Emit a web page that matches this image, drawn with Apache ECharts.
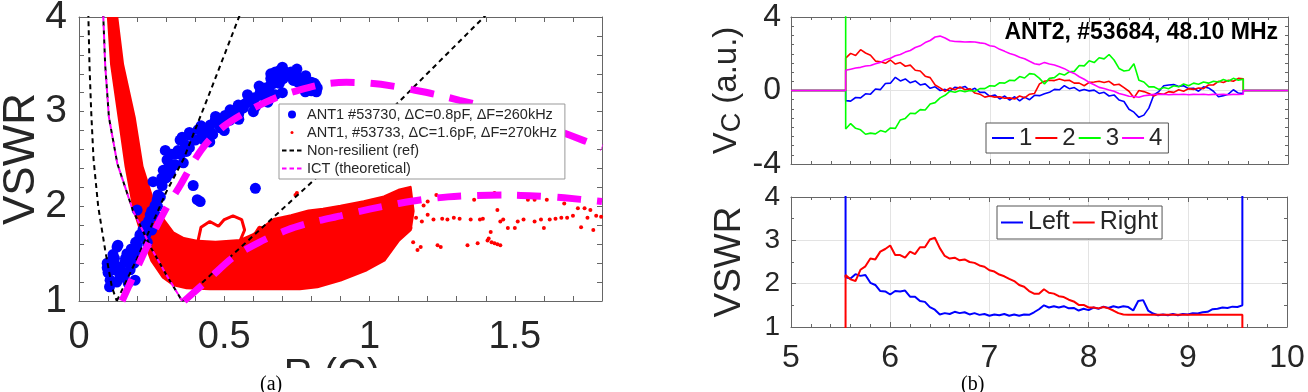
<!DOCTYPE html>
<html>
<head>
<meta charset="utf-8">
<script src="https://cdn.jsdelivr.net/npm/echarts@6/dist/echarts.min.js"></script>
<style>
  html, body { margin: 0; padding: 0; background: #fff; }
  #main { width: 1308px; height: 392px; }
</style>
</head>
<body>
<div id="main"></div>
<script>
// ---- panel (a): VSWR vs R ----
var ant1aPts = [
  [0.097,1.35],[0.107,1.22],[0.117,1.49],[0.134,1.59],[0.117,1.33],[0.141,1.27],[0.159,1.41],[0.176,1.33],
  [0.186,1.49],[0.2,1.59],[0.21,1.7],[0.193,1.22],[0.169,1.19],[0.131,1.57],[0.097,1.4],[0.21,1.68],
  [0.122,1.45],[0.15,1.3],[0.165,1.5],[0.19,1.4],[0.228,1.8],[0.245,1.91],[0.262,2.01],[0.272,2.12],
  [0.286,2.22],[0.29,2.38],[0.303,2.49],[0.297,2.59],[0.314,2.35],[0.331,2.44],[0.341,2.59],[0.348,2.7],
  [0.366,2.65],[0.383,2.75],[0.4,2.7],[0.41,2.81],[0.434,2.78],[0.452,2.86],[0.469,2.91],[0.486,2.83],
  [0.503,2.96],[0.528,3.0],[0.548,3.07],[0.566,3.04],[0.583,3.12],[0.607,3.15],[0.624,3.21],[0.641,3.25],
  [0.659,3.28],[0.676,3.42],[0.693,3.44],[0.703,3.35],[0.72,3.39],[0.738,3.33],[0.755,3.31],[0.772,3.28],
  [0.797,3.25],[0.814,3.28],[0.817,3.21],[0.779,3.21],[0.676,3.18],[0.607,3.05],[0.52,2.91],
  [0.33,2.55],[0.37,2.58],[0.43,2.7],[0.46,2.76],[0.5,2.88],[0.55,2.98],[0.6,3.08],[0.64,3.15],
  [0.66,3.35],[0.69,3.3],[0.73,3.42],[0.75,3.37],[0.8,3.31],[0.82,3.25],
  [0.3,2.3],[0.32,2.42],[0.35,2.55],[0.38,2.62],[0.42,2.72],[0.45,2.8],[0.48,2.9],[0.51,2.93],
  [0.54,3.02],[0.57,3.08],[0.6,3.12],[0.63,3.18],[0.655,3.22],[0.67,3.3],[0.685,3.38],[0.71,3.42],
  [0.74,3.4],[0.76,3.35],[0.79,3.3],[0.81,3.3],[0.8,3.22],
  [0.45,2.68],[0.5,2.8],[0.55,2.92],[0.6,3.0],[0.65,3.1],[0.7,3.2],[0.52,3.02],[0.47,2.95],
  [0.42,2.85],[0.38,2.78],[0.58,3.18],[0.62,3.27],[0.66,3.4],[0.7,3.47],[0.75,3.45],[0.78,3.38],
  [0.1,1.3],[0.11,1.42],[0.125,1.38],[0.14,1.35],[0.155,1.25],[0.16,1.45],[0.175,1.42],[0.18,1.55],
  [0.195,1.62],[0.205,1.52],[0.22,1.75],[0.23,1.7],[0.24,1.85],[0.25,1.95],[0.265,1.9],[0.27,2.0],
  [0.28,2.1],[0.285,2.3],[0.31,2.45],[0.32,2.55],[0.105,1.15],[0.13,1.2],
  [0.355,2.73],[0.393,2.22],[0.417,2.05],[0.607,2.19],[0.255,2.26],[0.269,2.07],[0.303,2.35],[0.359,2.46],
  [0.407,2.07],[0.2,1.96],[0.25,1.75],[0.235,1.62]
];
var ant1bCloud = [
  [0.1,4.05],[0.128,4.05],[0.15,3.5],[0.19,2.94],[0.217,2.42],[0.245,2.15],[0.266,1.96],
  [0.29,1.86],[0.324,1.72],[0.36,1.66],[0.41,1.63],[0.47,1.62],[0.555,1.64],[0.6,1.7],[0.67,1.86],[0.73,1.9],
  [0.79,1.95],[0.84,1.97],[0.9,2.0],[0.98,2.05],[1.05,2.1],[1.1,2.17],[1.14,2.2],[1.15,1.95],[1.14,1.75],
  [1.1,1.64],[1.05,1.43],[0.99,1.33],[0.9,1.22],[0.82,1.15],[0.76,1.13],[0.6,1.13],[0.45,1.13],[0.37,1.14],
  [0.326,1.17],[0.29,1.25],[0.25,1.43],[0.215,1.72],[0.19,1.96],[0.162,2.42],[0.138,2.94],[0.112,3.5],[0.1,4.05]
];
var ant1bLoop = [
  [0.41,1.64],[0.42,1.78],[0.45,1.84],[0.48,1.79],[0.5,1.86],[0.53,1.9],[0.56,1.86],[0.57,1.75],[0.555,1.64],
  [0.6,1.68],[0.62,1.78],[0.65,1.76],[0.66,1.68]
];
var ant1bDots = [
  [1.141,1.77],[1.165,1.54],[1.186,2.01],[1.2,1.91],[1.22,1.86],[1.234,1.59],[1.245,1.57],[1.268,1.86],
  [1.29,1.88],[1.31,1.87],[1.337,1.59],[1.348,1.86],[1.372,1.61],[1.38,1.86],[1.406,1.64],[1.417,1.73],
  [1.43,1.61],[1.44,1.96],[1.45,1.84],[1.45,1.59],[1.476,1.77],[1.5,1.77],[1.51,1.84],[1.53,1.86],
  [1.545,2.07],[1.568,2.07],[1.568,1.84],[1.59,1.86],[1.6,1.77],[1.62,1.86],[1.66,1.88],[1.67,2.03],
  [1.68,1.88],[1.717,1.98],[1.728,1.78],[1.74,1.98],[1.75,1.88],[1.76,1.96],[1.77,1.75],[1.797,1.89],
  [1.27,2.1],[1.36,2.07],[1.43,2.14],[1.61,2.07],[1.176,1.57],[0.75,2.14],[0.745,2.12],[1.16,1.88],
  [1.18,1.84],[1.25,1.87],[1.39,1.87],[1.46,1.86],[1.64,1.87],[1.7,1.9],[1.78,1.9],[1.41,1.66],
  [1.42,1.62],[1.44,1.6],[1.2,2.05],[1.23,2.12],[1.15,1.62],[0.2,2.55],[0.205,2.45],[0.21,2.4],[0.198,2.62]
];
var nrInnerLeft = [[0.032,4.05],[0.036,3.5],[0.042,3.0],[0.05,2.5],[0.066,2.0],[0.09,1.54],[0.113,1.15],[0.13,1.0]];
var nrInnerRight = [[0.13,1.0],[0.2,1.45],[0.3,2.15],[0.36,2.5],[0.45,3.2],[0.557,4.05]];
var nrOuterLeft = [[0.083,4.05],[0.09,3.5],[0.103,2.94],[0.132,2.45],[0.185,1.96],[0.25,1.55],[0.3,1.28],[0.355,1.0]];
var nrOuterRight = [[0.355,1.0],[0.76,2.14],[1.1,3.1],[1.41,4.05]];
var ictUpper = [
  [0.148,1.0],[0.2,1.35],[0.25,1.68],[0.3,1.98],[0.348,2.22],[0.4,2.5],[0.44,2.67],[0.5,2.85],[0.59,3.02],
  [0.68,3.15],[0.76,3.23],[0.84,3.29],[0.92,3.31],[1.0,3.3],[1.08,3.27],[1.15,3.23],[1.23,3.18],[1.31,3.12],
  [1.4,3.05],[1.5,2.95],[1.6,2.85],[1.69,2.75],[1.8,2.62]
];
var ictLower = [
  [0.362,1.0],[0.45,1.24],[0.53,1.46],[0.62,1.62],[0.716,1.75],[0.8,1.83],[0.9,1.9],[1.0,1.97],[1.1,2.03],
  [1.18,2.07],[1.27,2.1],[1.37,2.115],[1.47,2.12],[1.57,2.11],[1.67,2.09],[1.8,2.05]
];

// ---- panel (b): time traces ----
var tb = [
  5.55,5.6,5.65,5.7,5.75,5.8,5.85,5.9,5.95,6,
  6.05,6.1,6.15,6.2,6.25,6.3,6.35,6.4,6.45,6.5,
  6.55,6.6,6.65,6.7,6.75,6.8,6.85,6.9,6.95,7,
  7.05,7.1,7.15,7.2,7.25,7.3,7.35,7.4,7.45,7.5,
  7.55,7.6,7.65,7.7,7.75,7.8,7.85,7.9,7.95,8,
  8.05,8.1,8.15,8.2,8.25,8.3,8.35,8.4,8.45,8.5,
  8.55,8.6,8.65,8.7,8.75,8.8,8.85,8.9,8.95,9,
  9.05,9.1,9.15,9.2,9.25,9.3,9.35,9.4,9.45,9.5,
  9.55
];
var vc1 = [
  -0.55,-0.58,-0.38,-0.40,-0.18,-0.20,0.08,0.05,0.38,0.40,
  0.72,0.52,0.63,0.42,0.52,0.30,0.36,0.12,0.20,0.00,
  0.06,-0.02,0.18,0.14,0.22,0.00,0.12,-0.10,-0.10,-0.32,
  -0.24,-0.46,-0.30,-0.52,-0.34,-0.56,-0.36,-0.50,-0.26,-0.28,
  -0.18,-0.10,0.06,0.04,0.26,0.10,0.16,-0.02,0.06,-0.02,
  0.02,-0.16,-0.10,-0.30,-0.24,-0.52,-0.60,-1.02,-1.18,-1.46,
  -1.34,-0.96,-0.24,-0.06,0.26,0.30,0.32,0.22,0.26,0.10,
  0.12,-0.04,0.20,0.14,-0.04,-0.34,-0.28,-0.20,0.04,-0.14,
  -0.16
];
var vc2 = [
  1.76,2.02,1.90,2.22,2.04,1.92,1.60,1.56,1.48,1.66,
  1.44,1.52,1.32,1.38,1.10,1.06,0.78,0.70,0.30,0.14,
  -0.04,0.14,0.04,0.20,0.04,0.10,-0.14,-0.20,-0.36,-0.30,
  -0.36,-0.34,-0.42,-0.40,-0.46,-0.30,-0.40,-0.20,-0.16,0.36,
  0.50,0.56,0.54,0.62,0.54,0.56,0.40,0.40,0.26,0.44,
  0.46,0.50,0.44,0.50,0.30,0.34,0.16,-0.04,-0.40,0.00,
  -0.06,-0.16,-0.30,-0.16,-0.20,-0.06,-0.10,0.04,-0.04,0.10,
  0.06,0.14,0.10,0.30,0.30,0.50,0.44,0.56,0.50,0.66,
  0.64
];
var vc3 = [
  -2.10,-1.80,-2.06,-2.14,-2.38,-2.32,-2.36,-2.18,-2.26,-2.04,
  -2.06,-1.60,-1.52,-1.24,-1.26,-1.04,-1.06,-0.74,-0.66,-0.40,
  -0.26,-0.04,-0.10,0.00,-0.06,0.00,-0.04,0.10,0.10,0.26,
  0.24,0.42,0.40,0.56,0.54,0.76,0.68,0.92,0.88,0.66,
  0.36,0.66,0.70,0.92,0.84,1.02,1.04,1.36,1.34,1.62,
  1.52,1.78,1.72,1.96,1.66,1.20,1.06,1.10,1.46,0.56,
  0.46,0.20,0.20,0.06,0.16,0.10,0.26,0.20,0.36,0.26,
  0.40,0.34,0.46,0.40,0.50,0.46,0.60,0.50,0.66,0.56,
  0.62
];
var vc4 = [
  1.10,1.16,1.22,1.26,1.33,1.36,1.46,1.53,1.67,1.76,
  1.89,1.96,2.09,2.18,2.34,2.43,2.61,2.72,2.91,2.96,
  2.86,2.71,2.67,2.66,2.64,2.65,2.64,2.59,2.56,2.44,
  2.39,2.24,2.13,2.01,1.93,1.81,1.73,1.59,1.46,1.41,
  1.53,1.44,1.39,1.29,1.19,1.04,0.93,0.75,0.61,0.44,
  0.31,0.17,0.11,0.03,-0.04,-0.16,-0.23,-0.31,-0.33,-0.37,
  -0.29,-0.25,-0.21,-0.22,-0.2,-0.23,-0.21,-0.22,-0.2,-0.23,
  -0.21,-0.22,-0.2,-0.23,-0.21,-0.22,-0.2,-0.23,-0.21,-0.22,
  -0.2
];
var vswrL = [
  2.15,2.12,2.22,2.18,2.20,2.02,1.97,1.83,1.82,1.75,
  1.83,1.82,1.84,1.70,1.70,1.60,1.58,1.46,1.40,1.29,
  1.32,1.30,1.35,1.32,1.34,1.29,1.32,1.28,1.30,1.26,
  1.29,1.27,1.30,1.26,1.29,1.26,1.29,1.28,1.34,1.41,
  1.50,1.45,1.48,1.45,1.48,1.43,1.44,1.38,1.42,1.39,
  1.45,1.42,1.47,1.44,1.48,1.45,1.48,1.46,1.38,1.60,
  1.62,1.38,1.31,1.27,1.29,1.27,1.30,1.27,1.30,1.29,
  1.32,1.31,1.34,1.35,1.41,1.42,1.45,1.44,1.47,1.46,
  1.50
];
var vswrR = [
  2.20,2.10,2.06,2.32,2.40,2.58,2.56,2.74,2.80,2.88,
  2.66,2.66,2.60,2.74,2.68,2.84,2.84,3.02,3.06,2.82,
  2.64,2.58,2.60,2.54,2.56,2.50,2.48,2.42,2.39,2.31,
  2.28,2.21,2.17,2.11,2.06,1.97,1.93,1.83,1.77,1.77,
  1.87,1.79,1.77,1.71,1.69,1.63,1.59,1.51,1.51,1.45,
  1.45,1.43,1.46,1.43,1.38,1.32,1.29,1.28,1.28,1.28,
  1.28,1.28,1.28,1.28,1.28,1.28,1.28,1.28,1.28,1.28,
  1.28,1.28,1.28,1.28,1.28,1.28,1.28,1.28,1.28,1.28,
  1.28
];

var FF = 'Liberation Sans, Arial, sans-serif';
var frame = '#666';
var txt = '#262626';

// legend icons: small paths inside a fixed box (the M0,0 / Mw,h points pin the box size)
var dotBig = 'path://M0,0M20,8M6,4A4,4,0,1,0,14,4A4,4,0,1,0,6,4Z';
var dotSmall = 'path://M0,0M20,8M8.5,4A1.5,1.5,0,1,0,11.5,4A1.5,1.5,0,1,0,8.5,4Z';
var dashIcon = 'path://M0,0M20,8M0,3.1h4.5v1.8h-4.5zM7.5,3.1h4.5v1.8h-4.5zM15,3.1h4.5v1.8h-4.5z';
var lineIcon = 'path://M0,0M22,10M0,4h22v2h-22z';

function zip(t, v) {
  return t.map(function (x, i) { return [x, v[i]]; });
}

function axis(o) {
  var base = {
    type: 'value',
    axisLine: { show: true, onZero: false, lineStyle: { color: frame, width: 1 } },
    axisTick: { show: true, inside: true, length: 5, lineStyle: { color: frame } },
    minorTick: { show: false },
    splitLine: { show: false },
    axisLabel: { show: false },
    nameMoveOverlap: false
  };
  return Object.assign(base, o);
}
var grid2 = { show: true, lineStyle: { color: '#e3e3e3', width: 1 } };

var chartDom = document.getElementById('main');
var myChart = echarts.init(chartDom);
var option;

var nameA = 'ANT1 #53730, \u0394C=0.8pF, \u0394F=260kHz';
var nameB = 'ANT1, #53733, \u0394C=1.6pF, \u0394F=270kHz';
var dashBlack = { color: '#000', width: 2, type: [5, 4] };

option = {
  animation: false,
  textStyle: { fontFamily: FF },
  title: {
    text: 'ANT2, #53684, 48.10 MHz', right: 25, top: 16,
    textStyle: { fontSize: 23, fontWeight: 'bold', color: '#000', fontFamily: FF }
  },
  grid: [
    { left: 79, top: 17, width: 523, height: 284, outerBoundsMode: 'none' },
    { left: 791, top: 17, width: 497, height: 147, outerBoundsMode: 'none' },
    { left: 791, top: 197, width: 496, height: 130, outerBoundsMode: 'none' }
  ],
  legend: [
    {
      orient: 'vertical', left: 279, top: 104, padding: [3, 8, 3, 3], itemGap: 3,
      itemWidth: 20, itemHeight: 8, backgroundColor: '#fff', borderColor: '#999', borderWidth: 1,
      textStyle: { fontSize: 14.5, color: txt, fontFamily: FF },
      data: [
        { name: nameA, icon: dotBig },
        { name: nameB, icon: dotSmall },
        { name: 'Non-resilient (ref)', icon: dashIcon },
        { name: 'ICT (theoretical)', icon: dashIcon }
      ]
    },
    {
      left: 986, top: 123, padding: [3, 6], itemGap: 3, itemWidth: 22, itemHeight: 10,
      backgroundColor: '#fff', borderColor: '#555', borderWidth: 1,
      textStyle: { fontSize: 24, color: txt, fontFamily: FF },
      data: [
        { name: '1', icon: lineIcon }, { name: '2', icon: lineIcon },
        { name: '3', icon: lineIcon }, { name: '4', icon: lineIcon }
      ]
    },
    {
      left: 997, top: 206, padding: [4, 4], itemGap: 3, itemWidth: 22, itemHeight: 10,
      backgroundColor: '#fff', borderColor: '#555', borderWidth: 1,
      textStyle: { fontSize: 25, color: txt, fontFamily: FF },
      data: [{ name: 'Left', icon: lineIcon }, { name: 'Right', icon: lineIcon }]
    }
  ],
  xAxis: [
    axis({
      gridIndex: 0, min: 0, max: 1.8, interval: 0.1,
      axisLabel: {
        show: true, fontSize: 38, margin: 18, color: txt, fontFamily: FF,
        formatter: function (v) {
          return Math.abs(v * 2 - Math.round(v * 2)) < 1e-6 ? String(Math.round(v * 2) / 2) : '';
        }
      }
    }),
    axis({ gridIndex: 0, position: 'top', min: 0, max: 1.8, interval: 0.1 }),
    axis({
      gridIndex: 1, min: 5, max: 10, interval: 1,
      minorTick: { show: true, splitNumber: 5, length: 3, lineStyle: { color: frame } },
      splitLine: grid2
    }),
    axis({
      gridIndex: 1, position: 'top', min: 5, max: 10, interval: 1,
      minorTick: { show: true, splitNumber: 5, length: 3, lineStyle: { color: frame } }
    }),
    axis({
      gridIndex: 2, min: 5, max: 10, interval: 1,
      minorTick: { show: true, splitNumber: 5, length: 3, lineStyle: { color: frame } },
      splitLine: grid2,
      axisLabel: { show: true, fontSize: 32, margin: 15, color: txt, fontFamily: FF }
    }),
    axis({
      gridIndex: 2, position: 'top', min: 5, max: 10, interval: 1,
      minorTick: { show: true, splitNumber: 5, length: 3, lineStyle: { color: frame } }
    })
  ],
  yAxis: [
    axis({
      gridIndex: 0, min: 1, max: 4, interval: 1,
      minorTick: { show: true, splitNumber: 5, length: 5, lineStyle: { color: frame } },
      axisLabel: { show: true, fontSize: 39, margin: 12, color: txt, fontFamily: FF }
    }),
    axis({
      gridIndex: 0, position: 'right', min: 1, max: 4, interval: 1,
      minorTick: { show: true, splitNumber: 5, length: 5, lineStyle: { color: frame } }
    }),
    axis({
      gridIndex: 1, min: -4, max: 4, interval: 4,
      minorTick: { show: true, splitNumber: 8, length: 3, lineStyle: { color: frame } },
      splitLine: grid2,
      axisLabel: { show: true, fontSize: 32, margin: 10, color: txt, fontFamily: FF },
      name: '{v|V}{s|C}{v| (a.u.)}', nameLocation: 'middle', nameGap: 45,
      nameTextStyle: {
        color: txt,
        rich: {
          v: { fontSize: 33, lineHeight: 36, verticalAlign: 'top', color: txt, fontFamily: FF },
          s: { fontSize: 27, lineHeight: 27, verticalAlign: 'bottom', padding: [14, 0, 0, 0], color: txt, fontFamily: FF }
        }
      }
    }),
    axis({
      gridIndex: 1, position: 'right', min: -4, max: 4, interval: 4,
      minorTick: { show: true, splitNumber: 8, length: 3, lineStyle: { color: frame } }
    }),
    axis({
      gridIndex: 2, min: 1, max: 4, interval: 1,
      minorTick: { show: true, splitNumber: 2, length: 3, lineStyle: { color: frame } },
      splitLine: grid2,
      axisLabel: { show: true, fontSize: 28, margin: 11, color: txt, fontFamily: FF },
      name: 'VSWR', nameLocation: 'middle', nameGap: 43,
      nameTextStyle: { fontSize: 37, color: txt, fontFamily: FF }
    }),
    axis({
      gridIndex: 2, position: 'right', min: 1, max: 4, interval: 1,
      minorTick: { show: true, splitNumber: 2, length: 3, lineStyle: { color: frame } }
    })
  ],
  series: [
    // panel (a)
    {
      name: 'cloudB', type: 'custom', xAxisIndex: 0, yAxisIndex: 0, clip: true,
      data: ant1bCloud, encode: { x: 0, y: 1 },
      renderItem: function (params, api) {
        if (params.dataIndex !== 0) return null;
        var pts = ant1bCloud.map(function (p) { return api.coord(p); });
        return {
          type: 'polygon', shape: { points: pts },
          style: { fill: '#ff0000', stroke: '#ff0000', lineWidth: 3, lineJoin: 'round' }
        };
      }
    },
    {
      name: 'loopB', type: 'line', xAxisIndex: 0, yAxisIndex: 0, symbol: 'none',
      data: ant1bLoop, lineStyle: { color: '#ff0000', width: 3 }
    },
    {
      name: nameB, type: 'scatter', xAxisIndex: 0, yAxisIndex: 0, symbolSize: 4,
      data: ant1bDots, itemStyle: { color: '#ff0000', opacity: 1 }
    },
    {
      name: nameA, type: 'scatter', xAxisIndex: 0, yAxisIndex: 0, symbolSize: 11,
      data: ant1aPts, itemStyle: { color: '#0000ff', opacity: 1 }
    },
    { name: 'Non-resilient (ref)', type: 'line', xAxisIndex: 0, yAxisIndex: 0, symbol: 'none', data: nrInnerLeft, lineStyle: dashBlack, itemStyle: { color: '#000' } },
    { name: 'Non-resilient (ref)', type: 'line', xAxisIndex: 0, yAxisIndex: 0, symbol: 'none', data: nrInnerRight, lineStyle: dashBlack, itemStyle: { color: '#000' } },
    { name: 'Non-resilient (ref)', type: 'line', xAxisIndex: 0, yAxisIndex: 0, symbol: 'none', data: nrOuterLeft, lineStyle: dashBlack, itemStyle: { color: '#000' } },
    { name: 'Non-resilient (ref)', type: 'line', xAxisIndex: 0, yAxisIndex: 0, symbol: 'none', data: nrOuterRight, lineStyle: dashBlack, itemStyle: { color: '#000' } },
    {
      name: 'ICT (theoretical)', type: 'line', xAxisIndex: 0, yAxisIndex: 0, symbol: 'none',
      data: nrOuterLeft, itemStyle: { color: '#ff00ff' },
      lineStyle: { color: '#ff00ff', width: 2, type: [5, 4], dashOffset: 5 }
    },
    {
      name: 'ictUpper', type: 'line', xAxisIndex: 0, yAxisIndex: 0, symbol: 'none', smooth: 0.3,
      data: ictUpper, lineStyle: { color: '#ff00ff', width: 7, type: [24, 16] }
    },
    {
      name: 'ictLower', type: 'line', xAxisIndex: 0, yAxisIndex: 0, symbol: 'none', smooth: 0.3,
      data: ictLower, lineStyle: { color: '#ff00ff', width: 7, type: [24, 16] }
    },
    // panel (b) top
    {
      name: '1', type: 'line', xAxisIndex: 2, yAxisIndex: 2, symbol: 'none',
      data: [[5, 0], [5.55, 0]].concat(zip(tb, vc1), [[9.55, 0], [10, 0]]),
      itemStyle: { color: '#0000ff' }, lineStyle: { color: '#0000ff', width: 1.6 }
    },
    {
      name: '2', type: 'line', xAxisIndex: 2, yAxisIndex: 2, symbol: 'none',
      data: [[5, 0], [5.55, 0]].concat(zip(tb, vc2), [[9.55, 0], [10, 0]]),
      itemStyle: { color: '#ff0000' }, lineStyle: { color: '#ff0000', width: 1.6 }
    },
    {
      name: '3', type: 'line', xAxisIndex: 2, yAxisIndex: 2, symbol: 'none',
      data: [[5, 0], [5.55, 0], [5.55, 4.5]].concat(zip(tb, vc3), [[9.55, 0], [10, 0]]),
      itemStyle: { color: '#00ff00' }, lineStyle: { color: '#00ff00', width: 1.6 }
    },
    {
      name: '4', type: 'line', xAxisIndex: 2, yAxisIndex: 2, symbol: 'none',
      data: [[5, 0], [5.55, 0]].concat(zip(tb, vc4), [[9.55, 0], [10, 0]]),
      itemStyle: { color: '#ff00ff' }, lineStyle: { color: '#ff00ff', width: 1.6 }
    },
    // panel (b) bottom
    {
      name: 'Left', type: 'line', xAxisIndex: 4, yAxisIndex: 4, symbol: 'none',
      data: [[5.55, 4.5]].concat(zip(tb, vswrL), [[9.55, 4.5]]),
      itemStyle: { color: '#0000ff' }, lineStyle: { color: '#0000ff', width: 2 }
    },
    {
      name: 'Right', type: 'line', xAxisIndex: 4, yAxisIndex: 4, symbol: 'none',
      data: [[5.55, 0.9]].concat(zip(tb, vswrR), [[9.55, 0.9]]),
      itemStyle: { color: '#ff0000' }, lineStyle: { color: '#ff0000', width: 2 }
    }
  ],
  graphic: [
    // y-axis title of (a), rotated like the figure
    {
      type: 'text', x: 22, y: 159, rotation: Math.PI / 2, z: 99,
      style: { text: 'VSWR', font: '44px ' + FF, fill: txt, textAlign: 'center', textVerticalAlign: 'middle' }
    },
    // x-axis title of (a), partly hidden under the caption strip as in the figure
    { type: 'text', x: 332, y: 356, z: 99, style: { text: 'R (\u03A9)', font: '40px ' + FF, fill: txt, textAlign: 'center' } },
    { type: 'rect', shape: { x: 150, y: 368, width: 420, height: 24 }, style: { fill: '#fff' }, z: 100 },
    { type: 'rect', shape: { x: 760, y: 371, width: 548, height: 21 }, style: { fill: '#fff' }, z: 100 },
    { type: 'text', x: 260, y: 375, z: 101, style: { text: '(a)', font: '20px "Liberation Serif", serif', fill: '#000' } },
    { type: 'text', x: 961, y: 375, z: 101, style: { text: '(b)', font: '20px "Liberation Serif", serif', fill: '#000' } }
  ]
};

option && myChart.setOption(option);
</script>
</body>
</html>
